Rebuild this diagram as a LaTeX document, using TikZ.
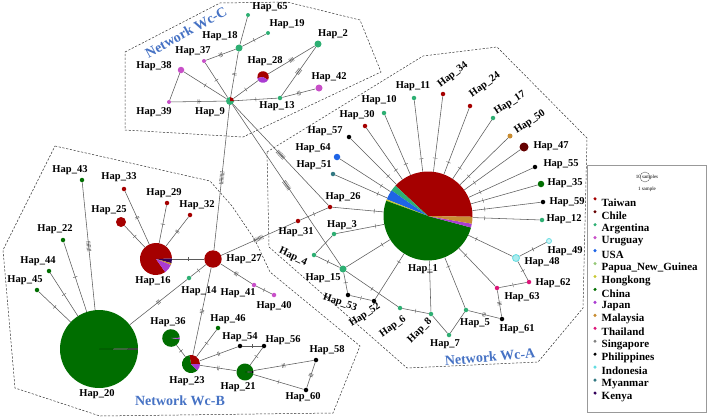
\documentclass[tikz,border=0pt]{standalone}
\usepackage{fontspec}
\setmainfont{Liberation Serif}
\usetikzlibrary{decorations.markings}
\definecolor{cTW}{RGB}{165,0,0}
\definecolor{cCL}{RGB}{100,0,0}
\definecolor{cAR}{RGB}{46,175,115}
\definecolor{cUY}{RGB}{200,80,200}
\definecolor{cUS}{RGB}{30,100,230}
\definecolor{cPG}{RGB}{150,200,120}
\definecolor{cHK}{RGB}{200,200,50}
\definecolor{cCN}{RGB}{0,110,0}
\definecolor{cJP}{RGB}{170,60,210}
\definecolor{cMY}{RGB}{200,140,50}
\definecolor{cTH}{RGB}{220,20,120}
\definecolor{cSG}{RGB}{128,128,128}
\definecolor{cPH}{RGB}{0,0,0}
\definecolor{cIN}{RGB}{100,220,225}
\definecolor{cMM}{RGB}{50,120,130}
\definecolor{cKE}{RGB}{50,0,90}
\definecolor{cNet}{RGB}{70,114,196}
\definecolor{cEd}{RGB}{90,90,90}
\newcommand\pieS[5]{\fill[#5] (#1.center) -- ++(#3:#2) arc[start angle=#3,end angle=#4,radius=#2] -- cycle;}
\begin{document}
\begin{tikzpicture}[x=1pt,y=-1pt,
  hn/.style={circle,inner sep=0pt,minimum size=#1},
  ed/.style={draw=cEd,line width=0.55pt},
  tk/.style={postaction={decorate,decoration={markings,mark=at position 0.5 with {
     \foreach \k in {1,...,#1}{\draw[cEd,line width=0.4pt] ({(\k-0.5*#1-0.5)*1.3pt},-2.2pt) -- ++(0pt,4.4pt);}}}}},
  tkb/.style={postaction={decorate,decoration={markings,mark=at position 0.82 with {
     \draw[cEd,line width=0.4pt] (0pt,-2.2pt) -- ++(0pt,4.4pt);}}}},
  lab/.style={font=\fontsize{10.5}{12}\selectfont\bfseries,inner sep=0pt},
  net/.style={font=\fontsize{14}{16}\selectfont\bfseries,text=cNet,inner sep=0pt},
  leg/.style={font=\fontsize{11}{12}\selectfont\bfseries,inner sep=0pt,anchor=west},
  poly/.style={draw=black!80,dashed,line width=0.5pt,dash pattern=on 2.2pt off 1.6pt}]
\useasboundingbox (0,0) rectangle (709,418);

% ---------- outlines ----------
\draw[poly] (125,52) -- (220,3) -- (287,2) -- (360,20) -- (381,72) -- (243,137) -- (125,130) -- cycle;
\draw[poly] (267,152) -- (423,56) -- (497,47) -- (587,138) -- (583,308) -- (538,362) -- (407,368) -- (269,247) -- cycle;
\draw[poly] (55,146) -- (210,181) -- (232,206) -- (255,240) -- (270,272) -- (360,346) -- (333,413) -- (100,416) -- (15,388) -- (3,250) -- cycle;

% ---------- Network Wc-C nodes ----------
\node[hn=4pt,fill=cAR] (h65) at (248,15) {};
\node[hn=4pt,fill=cAR] (h19) at (268,33) {};
\node[hn=7pt,fill=cAR] (h18) at (239,48) {};
\node[hn=7pt,fill=cAR] (h2) at (318,44) {};
\node[hn=4pt,fill=cUY] (h37) at (204,61) {};
\node[hn=11.6pt] (h28) at (263,77) {};
\pieS{h28}{5.8pt}{-30}{190}{cTW}
\pieS{h28}{5.8pt}{190}{330}{cJP}
\node[hn=6.5pt,fill=cUY] (h38) at (181,70) {};
\node[hn=7pt,fill=cUY] (h42) at (319,88) {};
\node[hn=4pt,fill=cUY] (h39) at (169,102) {};
\node[hn=8pt] (h9) at (230,101) {};
\pieS{h9}{4pt}{90}{360}{cAR}
\pieS{h9}{4pt}{0}{90}{cTW}
\node[hn=4.5pt,fill=cAR] (h13) at (280,98) {};

% ---------- Network Wc-A nodes ----------
\node[hn=89pt] (h1) at (428,216) {};
\pieS{h1}{44.5pt}{-1}{137}{cTW}
\pieS{h1}{44.5pt}{137}{145}{cAR}
\pieS{h1}{44.5pt}{145}{158}{cUS}
\pieS{h1}{44.5pt}{158}{160}{cHK}
\pieS{h1}{44.5pt}{160}{345}{cCN}
\pieS{h1}{44.5pt}{345}{350}{cJP}
\pieS{h1}{44.5pt}{350}{359}{cMY}
\node[hn=4.5pt,fill=cAR] (h11) at (414,98) {};
\node[hn=4.5pt,fill=cTW] (h34) at (443,94) {};
\node[hn=4.5pt,fill=cTW] (h24) at (470,106) {};
\node[hn=4.5pt,fill=cAR] (h17) at (493,118) {};
\node[hn=5pt,fill=cMY] (h50) at (510,136) {};
\node[hn=9pt,fill=cCL] (h47) at (524,147) {};
\node[hn=4.5pt,fill=cPH] (h55) at (535,167) {};
\node[hn=6.5pt,fill=cCN] (h35) at (541,184) {};
\node[hn=4.5pt,fill=cPH] (h59) at (543,202) {};
\node[hn=4.5pt,fill=cAR] (h12) at (542,220) {};
\node[hn=4.5pt,fill=cAR] (h10) at (384,113) {};
\node[hn=4.5pt,fill=cTW] (h30) at (365,126) {};
\node[hn=4.5pt,fill=cPH] (h57) at (349,137) {};
\node[hn=6.5pt,fill=cUS] (h64) at (337,157) {};
\node[hn=4.5pt,fill=cMM] (h51) at (333,174) {};
\node[hn=4.5pt,fill=cTW] (h26) at (330,207) {};
\node[hn=4.5pt,fill=cTW] (h31) at (298,221) {};
\node[hn=4.5pt,fill=cAR] (h3) at (334,234) {};
\node[hn=4.5pt,fill=cAR] (h4) at (314,255) {};
\node[hn=7pt,fill=cAR] (h15) at (343,269) {};
\node[hn=4.5pt,fill=cPH] (h53) at (348,295) {};
\node[hn=4.5pt,fill=cPH] (h52) at (374,301) {};
\node[hn=4.5pt,fill=cAR] (h6) at (400,308) {};
\node[hn=4.5pt,fill=cAR] (h8) at (431,314) {};
\node[hn=4.5pt,fill=cAR] (h7) at (449,335) {};
\node[hn=4.5pt,fill=cAR] (h5) at (466,310) {};
\node[hn=4.5pt,fill=cPH] (h61) at (502,319) {};
\node[hn=4.5pt,fill=cTH] (h63) at (497,288) {};
\node[hn=4.5pt,fill=cTH] (h62) at (529,282) {};
\node[hn=7pt,fill=cIN!55,draw=cIN,line width=0.8pt] (h48) at (516,258) {};
\node[hn=5pt,fill=cIN!30,draw=cIN,line width=0.8pt] (h49) at (549,241) {};

% ---------- Network Wc-B nodes ----------
\node[hn=4.5pt,fill=cCN] (h43) at (82,180) {};
\node[hn=4.5pt,fill=cTW] (h33) at (124,189) {};
\node[hn=4.5pt,fill=cTW] (h29) at (167,203) {};
\node[hn=4.5pt,fill=cTW] (h32) at (190,215) {};
\node[hn=10pt,fill=cTW] (h25) at (121,222) {};
\node[hn=4.5pt,fill=cCN] (h22) at (63,240) {};
\node[hn=4.5pt,fill=cCN] (h44) at (49,271) {};
\node[hn=4.5pt,fill=cCN] (h45) at (37,290) {};
\node[hn=32pt] (h16) at (156,259) {};
\pieS{h16}{16pt}{2}{305}{cTW}
\pieS{h16}{16pt}{-15}{2}{cKE}
\pieS{h16}{16pt}{-22}{-15}{cMY}
\pieS{h16}{16pt}{-55}{-22}{cJP}
\node[hn=17.4pt,fill=cTW] (h27) at (213,259) {};
\node[hn=4.5pt,fill=cAR] (h14) at (189,278) {};
\node[hn=78pt] (h20) at (99,349) {};
\pieS{h20}{39pt}{1}{359}{cCN}
\pieS{h20}{39pt}{-1}{1}{cPH}
\node[hn=17.6pt] (h36) at (171,338) {};
\pieS{h36}{8.8pt}{2}{352}{cCN}
\pieS{h36}{8.8pt}{-8}{2}{cJP}
\node[hn=4.5pt,fill=cCN] (h46) at (218,328) {};
\node[hn=4.5pt,fill=cUY] (h41) at (254,285) {};
\node[hn=4.5pt,fill=cUY] (h40) at (274,295) {};
\node[hn=18pt] (h23) at (191,364) {};
\pieS{h23}{9pt}{0}{100}{cTW}
\pieS{h23}{9pt}{100}{315}{cCN}
\pieS{h23}{9pt}{-45}{0}{cJP}
\node[hn=4.5pt,fill=cPH] (h54) at (240,346) {};
\node[hn=4.5pt,fill=cPH] (h56) at (264,346) {};
\node[hn=17pt] (h21) at (245,372) {};
\pieS{h21}{8.5pt}{6}{354}{cCN}
\pieS{h21}{8.5pt}{-6}{6}{cPH}
\node[hn=4.5pt,fill=cPH] (h58) at (316,360) {};
\node[hn=4.5pt,fill=cPH] (h60) at (306,390) {};

% ---------- connectors Wc-C ----------
\draw[ed] (h65) -- (h18);
\draw[ed,tk=2] (h18) -- (h9);
\draw[ed,tk=1] (h19) -- (h18);
\draw[ed,tk=3] (h37) -- (h18);
\draw[ed,tk=1] (h37) -- (h9);
\draw[ed,tk=1] (h38) -- (h9);
\draw[ed] (h38) -- (h39);
\draw[ed,tk=2] (h39) -- (h9);
\draw[ed,tk=1] (h28) -- (h9);
\draw[ed,tk=4] (h28) -- (h2);
\draw[ed,tk=5] (h2) -- (h13);
\draw[ed,tk=1] (h13) -- (h9);
\draw[ed,tk=3] (h42) -- (h13);
% ---------- long connectors ----------
\draw[ed,tk=10] (h9) -- (h27);
\draw[ed,tk=8] (h9) -- (h26);
\draw[ed,tk=8] (h9) -- (h15);
\draw[ed,tk=8] (h27) -- (h31);
\draw[ed,tk=1] (h31) -- (h26);
% ---------- connectors Wc-A ----------
\foreach \h in {h26,h3,h51,h64,h57,h30,h10,h11,h34,h24,h17,h50,h47,h55,h35,h59,h12,h15,h52,h8,h5,h63,h48}
  {\draw[ed,tkb] (\h) -- (h1);}
\draw[ed] (h3) -- (h4);
\draw[ed,tk=1] (h4) -- (h15);
\draw[ed,tk=1] (h15) -- (h6);
\draw[ed,tk=1] (h15) -- (h53);
\draw[ed,tk=1] (h53) -- (h52);
\draw[ed,tk=1] (h6) -- (h8);
\draw[ed] (h8) -- (h7);
\draw[ed] (h7) -- (h5);
\draw[ed,tk=3] (h5) -- (h61);
\draw[ed,tk=3] (h61) -- (h63);
\draw[ed,tk=1] (h63) -- (h62);
\draw[ed,tk=1] (h62) -- (h48);
\draw[ed,tk=1] (h48) -- (h49);
% ---------- connectors Wc-B ----------
\draw[ed,tk=8] (h43) -- (h20);
\draw[ed,tk=1] (h22) -- (h20);
\draw[ed,tk=1] (h44) -- (h20);
\draw[ed,tk=1] (h45) -- (h20);
\draw[ed,tk=3] (h14) -- (h20);
\draw[ed,tk=1] (h27) -- (h14);
\draw[ed,tk=1] (h27) -- (h16);
\draw[ed,tk=1] (h25) -- (h16);
\draw[ed,tk=2] (h33) -- (h16);
\draw[ed,tk=1] (h29) -- (h16);
\draw[ed,tk=2] (h32) -- (h16);
\draw[ed,tk=3] (h27) -- (h41);
\draw[ed,tk=1] (h41) -- (h40);
\draw[ed,tk=3] (h23) -- (h27);
\draw[ed,tk=1] (h23) -- (h36);
\draw[ed,tk=1] (h23) -- (h46);
\draw[ed,tk=2] (h23) -- (h54);
\draw[ed,tk=1] (h54) -- (h56);
\draw[ed,tk=1] (h56) -- (h21);
\draw[ed,tk=2] (h23) -- (h21);
\draw[ed,tk=3] (h21) -- (h58);
\draw[ed,tk=3] (h58) -- (h60);
\draw[ed,tk=1] (h21) -- (h60);

% ---------- labels Wc-C ----------
\node[lab] (l65) at (270,7) {Hap\_65};
\node[lab] (l19) at (287,24) {Hap\_19};
\node[lab] (l18) at (220,36) {Hap\_18};
\node[lab] (l2) at (333,34) {Hap\_2};
\node[lab] (l37) at (193,51) {Hap\_37};
\node[lab] (l28) at (265,61) {Hap\_28};
\node[lab] (l38) at (154,66) {Hap\_38};
\node[lab] (l42) at (329,77) {Hap\_42};
\node[lab] (l39) at (154,112) {Hap\_39};
\node[lab] (l9) at (210,112) {Hap\_9};
\node[lab] (l13) at (277,106) {Hap\_13};
% ---------- labels Wc-A ----------
\node[lab] (l11) at (413,86) {Hap\_11};
\node[lab,rotate=38] (l34) at (453,75) {Hap\_34};
\node[lab,rotate=36] (l24) at (485,85) {Hap\_24};
\node[lab,rotate=33] (l17) at (510,103) {Hap\_17};
\node[lab,rotate=34] (l50) at (530,122) {Hap\_50};
\node[lab] (l47) at (551,146) {Hap\_47};
\node[lab] (l55) at (561,164) {Hap\_55};
\node[lab] (l35) at (565,183) {Hap\_35};
\node[lab] (l59) at (567,202) {Hap\_59};
\node[lab] (l12) at (564,219) {Hap\_12};
\node[lab] (l10) at (379,100) {Hap\_10};
\node[lab] (l30) at (357,115) {Hap\_30};
\node[lab] (l57) at (325,131) {Hap\_57};
\node[lab] (l64) at (313,148) {Hap\_64};
\node[lab] (l51) at (314,165) {Hap\_51};
\node[lab] (l26) at (343,197) {Hap\_26};
\node[lab] (l31) at (296,232) {Hap\_31};
\node[lab] (l3) at (342,225) {Hap\_3};
\node[lab,rotate=-25] (l4) at (293,257) {Hap\_4};
\node[lab] (l15) at (323,278) {Hap\_15};
\node[lab,rotate=-18] (l53) at (340,303) {Hap\_53};
\node[lab,rotate=34] (l52) at (365,315) {Hap\_52};
\node[lab,rotate=36] (l6) at (393,327) {Hap\_6};
\node[lab,rotate=45] (l8) at (420,331) {Hap\_8};
\node[lab] (l7) at (445,344) {Hap\_7};
\node[lab] (l5) at (475,323) {Hap\_5};
\node[lab] (l61) at (517,329) {Hap\_61};
\node[lab] (l63) at (522,297) {Hap\_63};
\node[lab] (l62) at (553,283) {Hap\_62};
\node[lab] (l48) at (542,262) {Hap\_48};
\node[lab] (l49) at (565,251) {Hap\_49};
\node[lab] (l1) at (423,269) {Hap\_1};
% ---------- labels Wc-B ----------
\node[lab] (l43) at (70,170) {Hap\_43};
\node[lab] (l33) at (119,177) {Hap\_33};
\node[lab] (l29) at (164,193) {Hap\_29};
\node[lab] (l32) at (197,205) {Hap\_32};
\node[lab] (l25) at (109,210) {Hap\_25};
\node[lab] (l22) at (55,229) {Hap\_22};
\node[lab] (l44) at (38,261) {Hap\_44};
\node[lab] (l45) at (25,280) {Hap\_45};
\node[lab] (l16) at (153,281) {Hap\_16};
\node[lab] (l27) at (244,259) {Hap\_27};
\node[lab] (l14) at (199,291) {Hap\_14};
\node[lab] (l41) at (238,293) {Hap\_41};
\node[lab] (l40) at (274,306) {Hap\_40};
\node[lab] (l36) at (168,322) {Hap\_36};
\node[lab] (l46) at (228,319) {Hap\_46};
\node[lab] (l54) at (240,337) {Hap\_54};
\node[lab] (l56) at (283,340) {Hap\_56};
\node[lab] (l58) at (327,350) {Hap\_58};
\node[lab] (l23) at (187,381) {Hap\_23};
\node[lab] (l21) at (238,387) {Hap\_21};
\node[lab] (l60) at (303,397) {Hap\_60};
\node[lab] (l20) at (97,394) {Hap\_20};

% ---------- network titles ----------
\node[net,rotate=29] (tC) at (186,32) {Network Wc-C};
\node[net,rotate=5] (tA) at (490,357) {Network Wc-A};
\node[net] (tB) at (180,401) {Network Wc-B};

% ---------- legend ----------
\draw[black!40,line width=0.6pt] (587,165) rectangle (706,412);
\node[font=\fontsize{5}{6}\selectfont,inner sep=0pt] (ls10) at (647,177) {10 samples};
\node[circle,draw=black!60,line width=0.4pt,minimum size=10pt,inner sep=0pt] (lsc) at (645,177) {};
\node[font=\fontsize{5}{6}\selectfont,inner sep=0pt] (ls1) at (647,189) {1 sample};
\foreach \nm/\cl [count=\i from 0] in {Taiwan/cTW,Chile/cCL,Argentina/cAR,Uruguay/cUY,USA/cUS,Papua\_New\_Guinea/cPG,Hongkong/cHK,China/cCN,Japan/cJP,Malaysia/cMY,Thailand/cTH,Singapore/cSG,Philippines/cPH,Indonesia/cIN,Myanmar/cMM,Kenya/cKE}{
  \node[circle,fill=\cl,inner sep=0pt,minimum size=3.4pt] (ld\i) at (595,{198.8+12.95*\i}) {};
  \node[leg] (lt\i) at (601.5,{202.7+12.95*\i}) {\nm};
}
\end{tikzpicture}
\end{document}
